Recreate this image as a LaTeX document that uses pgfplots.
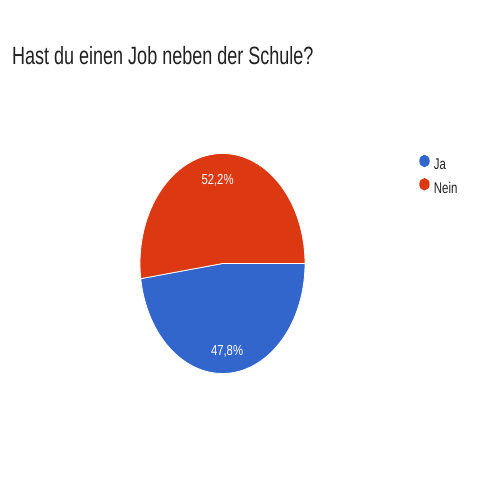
\documentclass[border=0pt]{standalone}
\usepackage{pgfplots}
\pgfplotsset{compat=1.18}
\usepackage{fontspec}
\setmainfont{Liberation Sans}

\definecolor{jablue}{HTML}{3366CC}
\definecolor{neinred}{HTML}{DC3912}
\definecolor{titlegray}{HTML}{212121}

% Antworten in Prozent
\def\ja{47.8}
\def\nein{52.2}

\begin{document}
\begin{tikzpicture}[x=1pt,y=1pt]
\useasboundingbox (0,0) rectangle (480,480);
\fill[white] (0,0) rectangle (480,480);

\node[anchor=base west, inner sep=0pt, text=titlegray,
      font=\fontsize{25}{30}\selectfont] at (12,415)
  {\scalebox{0.72}[1]{Hast du einen Job neben der Schule?}};

\begin{axis}[
  at={(222.5pt,216.5pt)}, anchor=center,
  width=165pt, height=220pt, scale only axis,
  xmin=-1, xmax=1, ymin=-1, ymax=1,
  hide axis, clip=false,
  legend cell align=left,
  legend image code/.code={%
    \path (0pt,0pt) (10pt,0pt);
    \fill[#1, draw=none] (5pt,4pt) circle[x radius=5.2pt, y radius=6.2pt];},
  legend style={at={(axis description cs:1.69,0.995)}, anchor=north west,
    draw=none, fill=none, inner sep=0pt, row sep=5.5pt,
    font=\fontsize{15.5}{17}\selectfont, text=titlegray,
    nodes={inner sep=1.5pt},
    /tikz/every odd column/.append style={column sep=2.5pt}},
]
% Ja: vom rechten Rand im Uhrzeigersinn
\addplot[fill=jablue, draw=white, line width=0.8pt,
  domain=0:-3.6*\ja, samples=150, variable=\t]
  ({cos(\t)}, {sin(\t)}) -- (0,0) -- cycle;
\addlegendentry{\scalebox{0.74}[1]{Ja}}
% Nein: der Rest
\addplot[fill=neinred, draw=white, line width=0.8pt,
  domain=0:3.6*\nein, samples=150, variable=\t]
  ({cos(\t)}, {sin(\t)}) -- (0,0) -- cycle;
\addlegendentry{\scalebox{0.74}[1]{Nein}}

\node[text=white, font=\fontsize{14.5}{16}\selectfont]
  at (-0.06,0.76) {\scalebox{0.78}[1]{52,2\%}};
\node[text=white, font=\fontsize{14.5}{16}\selectfont]
  at (0.055,-0.80) {\scalebox{0.78}[1]{47,8\%}};
\end{axis}
\end{tikzpicture}
\end{document}
